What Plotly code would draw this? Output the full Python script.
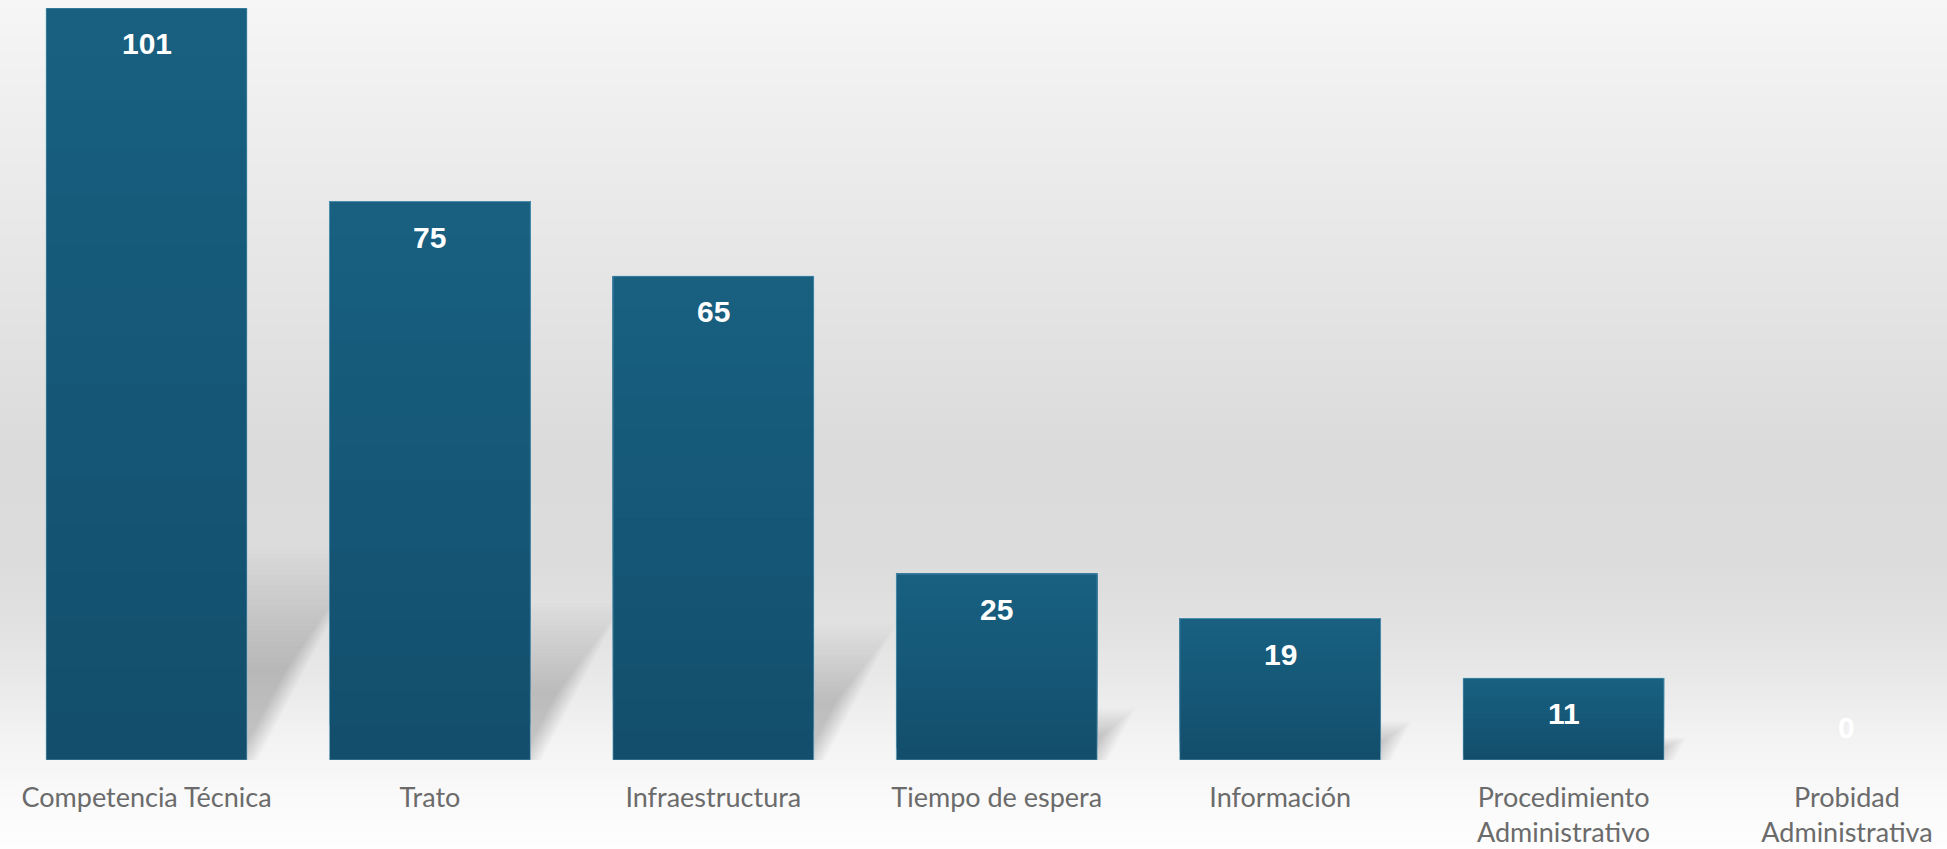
import plotly.graph_objects as go

# ---- data ----
categories = ["Competencia Técnica", "Trato", "Infraestructura", "Tiempo de espera",
              "Información", "Procedimiento<br>Administrativo", "Probidad<br>Administrativa"]
values = [101, 75, 65, 25, 19, 11, 0]

# ---- style ----
W, H = 1947, 849
M_T, M_B = 8, 89
BAR_W = 0.709
BAR_TOP_RGB = (24, 96, 129)
BAR_BOT_RGB = (19, 78, 108)
N_SLICES = 16
LABEL_FONT = "Lato, Roboto, sans-serif"
VALUE_FONT = "Liberation Sans, Arial, sans-serif"
bg_stops = [(0, 246), (120, 238), (300, 228), (450, 219), (560, 220), (620, 225),
            (680, 233), (740, 243), (800, 250), (849, 254)]

def gray_at(py):
    for (p0, g0), (p1, g1) in zip(bg_stops, bg_stops[1:]):
        if p0 <= py <= p1:
            return g0 + (g1 - g0) * (py - p0) / (p1 - p0)
    return bg_stops[-1][1]

plot_h = H - M_T - M_B
def px_to_paper(py):
    return (H - M_B - py) / plot_h

shapes = []
step = 4
for py in range(0, H, step):
    g = int(round(gray_at(py + step / 2)))
    shapes.append(dict(type="rect", xref="paper", yref="paper", x0=-0.01, x1=1.01,
                       y0=px_to_paper(py + step + 1), y1=px_to_paper(py),
                       fillcolor=f"rgb({g},{g},{g})", line=dict(width=0), layer="below"))

# soft perspective shadows behind bars (derived from bar values), many faint layers = blur
N_LAYERS = 24
for i, v in enumerate(values):
    if v <= 0:
        continue
    xl, xr = i - BAR_W / 2, i + BAR_W / 2
    for k in range(N_LAYERS):
        f = 0.55 + 0.7 * k / (N_LAYERS - 1)
        h = 0.225 * v * f
        s = 0.0031 * v * f
        b = 0.10 * (f - 0.85)
        path = f"M {xl},0 L {xr + b},0 L {xr + b + s},{h} L {xl + s},{h} Z"
        shapes.append(dict(type="path", xref="x", yref="y", path=path,
                           fillcolor="rgba(40,40,40,0.009)", line=dict(width=0), layer="below"))

fig = go.Figure()
xs = list(range(len(categories)))
# vertical gradient inside each bar: overlapping layers, each from a fraction of the value to the top
for k in range(N_SLICES):
    t = (k + 0.5) / N_SLICES  # 0 bottom -> 1 top
    c = tuple(int(round(BAR_BOT_RGB[j] + (BAR_TOP_RGB[j] - BAR_BOT_RGB[j]) * t)) for j in range(3))
    fig.add_trace(go.Bar(
        x=xs, y=[v * (1 - k / N_SLICES) for v in values], base=[v * k / N_SLICES for v in values],
        width=BAR_W, marker=dict(color=f"rgb{c}", line=dict(width=0)), hoverinfo="skip",
    ))
# thin light outline of each bar
fig.add_trace(go.Bar(
    x=xs, y=values, width=BAR_W,
    marker=dict(color="rgba(0,0,0,0)",
                line=dict(color="rgba(130,185,215,0.55)",
                          width=[1 if v > 0 else 0 for v in values])),
    hoverinfo="skip",
))

annotations = []
for i, v in enumerate(values):
    annotations.append(dict(x=i, y=v, xref="x", yref="y", text=str(v), showarrow=False,
                            yanchor="middle", yshift=-35.5 if v > 0 else 33,
                            font=dict(family=VALUE_FONT, size=30, color="white", weight="bold")))

fig.update_layout(
    width=W, height=H,
    margin=dict(l=0, r=0, t=M_T, b=M_B, pad=0, autoexpand=False),
    paper_bgcolor="white", plot_bgcolor="rgba(0,0,0,0)",
    showlegend=False, barmode="overlay",
    shapes=shapes, annotations=annotations,
    xaxis=dict(range=[-0.517, 6.353], tickmode="array", tickvals=xs, automargin=False,
               ticktext=categories, showgrid=False, zeroline=False, showline=False, ticks="",
               ticklabelstandoff=19,
               tickfont=dict(family=LABEL_FONT, size=27, color="#6b6b6b")),
    yaxis=dict(range=[0, 101], visible=False, showgrid=False, zeroline=False, automargin=False),
)

fig.write_html("out.html", config={"displayModeBar": False},
               post_script="document.body.style.margin='0';document.body.style.overflow='hidden';")
